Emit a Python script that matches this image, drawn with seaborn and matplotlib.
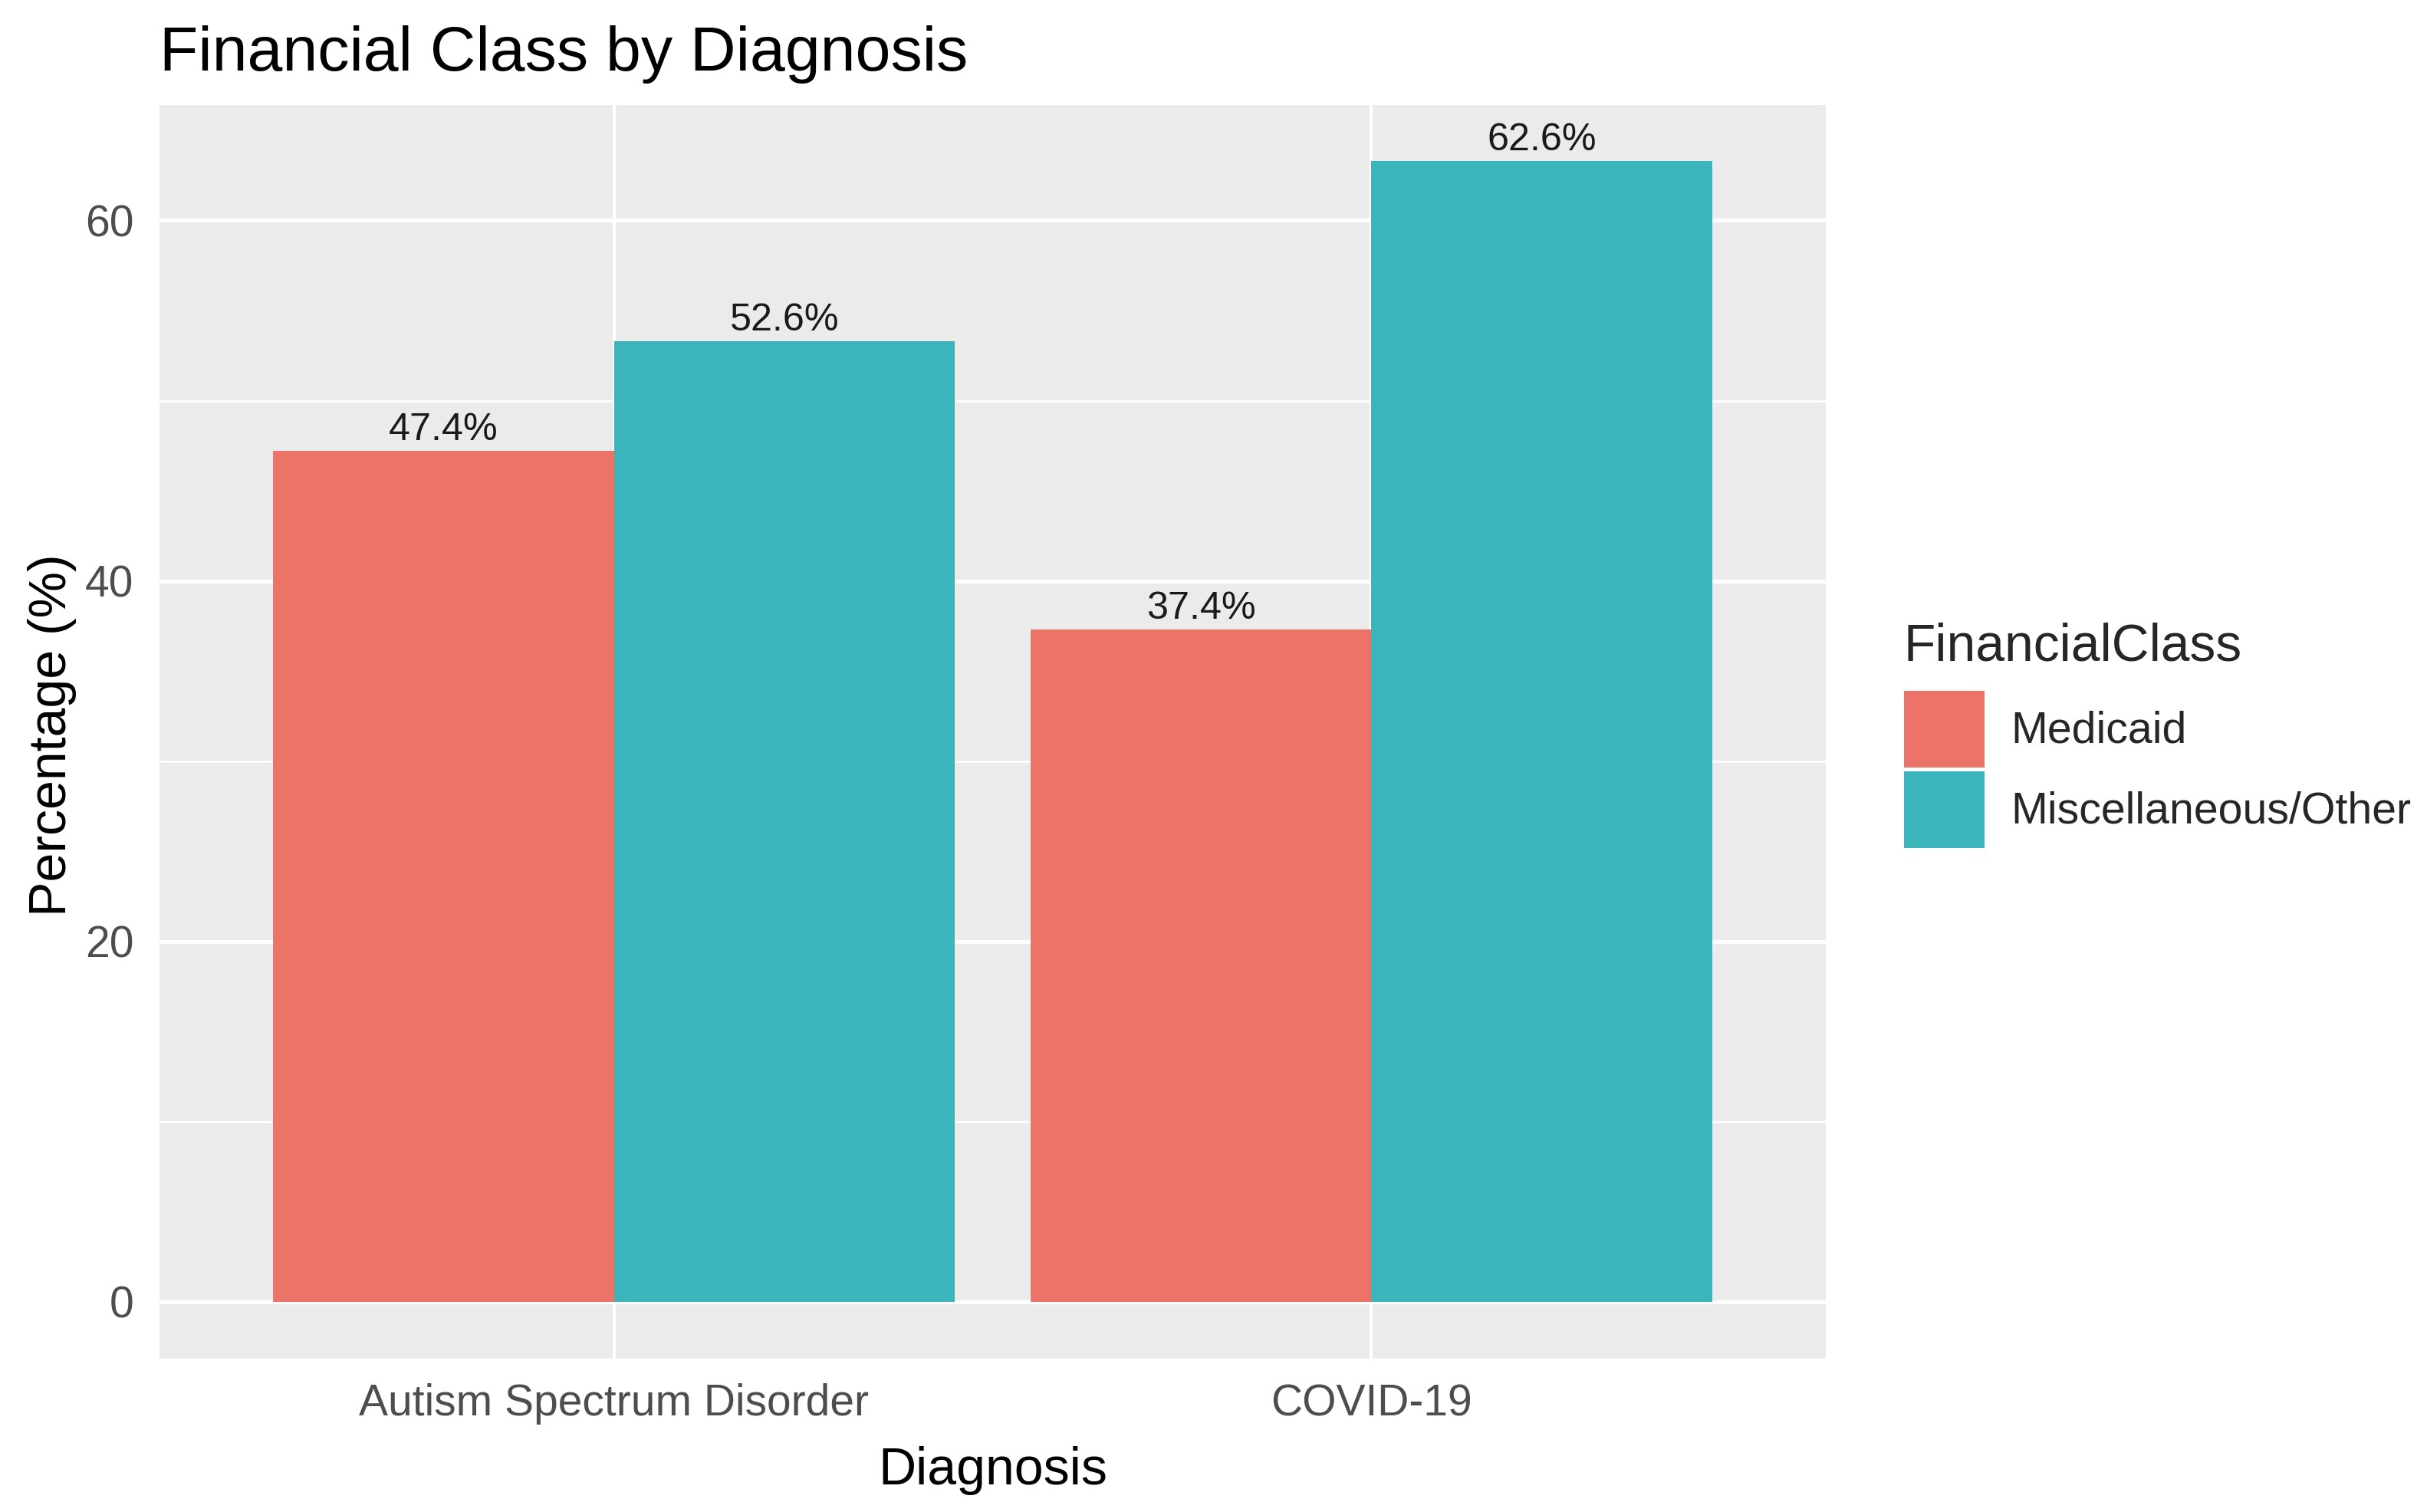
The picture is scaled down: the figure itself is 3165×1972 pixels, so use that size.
import pandas as pd
import seaborn as sns
import matplotlib.pyplot as plt

# data
diagnosis = ["Autism Spectrum Disorder", "COVID-19"]
medicaid_pct = [47.2, 37.3]
misc_pct = [53.3, 63.3]
medicaid_labels = ["47.4%", "37.4%"]
misc_labels = ["52.6%", "62.6%"]
classes = ["Medicaid", "Miscellaneous/Other"]
y_ticks = [0, 20, 40, 60]

df = pd.DataFrame({
    "Diagnosis": diagnosis * 2,
    "FinancialClass": [classes[0]] * 2 + [classes[1]] * 2,
    "Percentage": medicaid_pct + misc_pct,
})

sns.set_theme(style="darkgrid")
plt.rcParams["font.family"] = ["Liberation Sans", "DejaVu Sans"]

W, H = 3165, 1972
fig = plt.figure(figsize=(W / 200, H / 200), dpi=200)
ax = fig.add_axes([208 / W, 1 - 1772 / H, (2381 - 208) / W, (1772 - 137) / H])
ax.set_facecolor("#EBEBEB")

sns.barplot(data=df, x="Diagnosis", y="Percentage", hue="FinancialClass",
            order=diagnosis, hue_order=classes,
            palette=["#EB7367", "#3CB4BC"], saturation=1, width=0.9,
            linewidth=0, errorbar=None, ax=ax)

for cont, labs in zip(ax.containers, [medicaid_labels, misc_labels]):
    ax.bar_label(cont, labels=labs, padding=1.5, fontsize=18.1, color="#1a1a1a")

ax.set_xlim(-0.6, 1.6)
ax.set_ylim(-3.15, 66.4)
ax.set_yticks(y_ticks)
ax.set_yticks([10, 30, 50], minor=True)
ax.set_axisbelow(True)
ax.grid(which="major", color="white", linewidth=1.9)
ax.grid(which="minor", axis="y", color="white", linewidth=1.0)
ax.grid(which="major", axis="x", color="white", linewidth=1.5)
for s in ax.spines.values():
    s.set_visible(False)

ax.tick_params(axis="both", which="major", length=6.1, width=1.1, color="#333333",
               labelsize=20.5, labelcolor="#4D4D4D")
ax.tick_params(axis="x", pad=5.5)
ax.tick_params(axis="y", pad=6)
ax.tick_params(which="minor", length=0)

ax.set_xlabel("Diagnosis", fontsize=24.5, color="black")
ax.xaxis.label.set_va("baseline")
ax.xaxis.set_label_coords(0.5, (1772 - 1936) / (1772 - 137))
ax.set_ylabel("Percentage (%)", fontsize=24.5, color="black")
ax.yaxis.label.set_va("top")
ax.yaxis.set_label_coords(-(208 - 36) / (2381 - 208), 0.5 + (953 - 957) / 1635)

fig.text(208 / W, 1 - 92 / H, "Financial Class by Diagnosis", fontsize=29.7,
         color="black", ha="left", va="baseline")

sns.move_legend(ax, "upper left", bbox_to_anchor=(2483 / W, 1 - 812 / H),
                bbox_transform=fig.transFigure, frameon=False,
                title="FinancialClass", title_fontsize=24.4, fontsize=20.6,
                handlelength=1.84, handleheight=2.31, labelspacing=0.09,
                handletextpad=0.6, borderpad=0, borderaxespad=0)
leg = ax.get_legend()
leg._legend_box.align = "left"
leg._legend_box.sep = 9

fig.savefig("out.png", dpi=200, facecolor="white")
